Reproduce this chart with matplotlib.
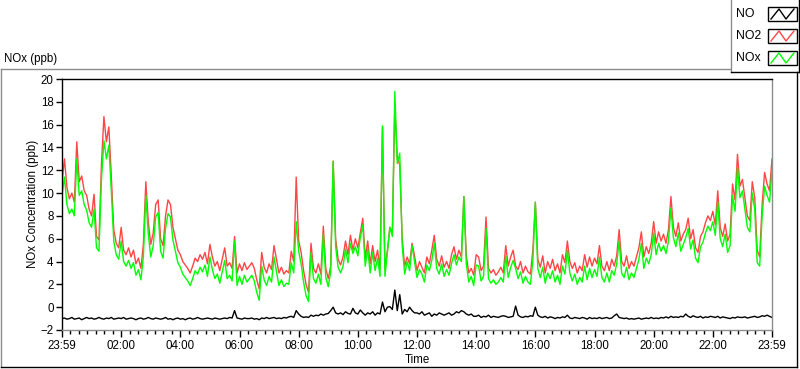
import numpy as np
import matplotlib.pyplot as plt
from matplotlib.ticker import FixedLocator, AutoMinorLocator
from matplotlib.lines import Line2D
from matplotlib.patches import Rectangle

plt.rcParams['font.family'] = ['Liberation Sans', 'DejaVu Sans']

# sample times, minutes after the 23:59 start (5 min steps)
minutes = np.arange(0, 1441, 5)

# NO2 (ppb), one row per hour
no2 = [11.0, 13.0, 10.5, 9.5, 10.0, 9.2, 14.5, 11.0, 11.5, 10.2, 9.8, 8.6,
       8.0, 9.9, 6.2, 5.9, 12.5, 16.7, 14.5, 15.8, 11.5, 6.8, 5.6, 5.2,
       7.0, 5.0, 4.6, 5.2, 4.4, 5.0, 3.8, 4.3, 3.4, 5.5, 11.0, 7.5,
       5.5, 6.5, 9.0, 9.4, 6.0, 5.4, 8.0, 9.4, 9.0, 7.0, 6.0, 5.0,
       4.6, 4.0, 3.7, 3.4, 3.0, 3.6, 4.3, 4.0, 4.6, 4.2, 4.8, 3.8,
       5.5, 4.4, 3.6, 4.0, 3.2, 4.2, 5.2, 3.6, 3.9, 3.4, 6.2, 3.0,
       3.8, 3.2, 3.9, 3.3, 3.6, 3.9, 3.4, 2.4, 1.6, 4.8, 3.5, 3.0,
       3.8, 3.3, 5.4, 4.2, 3.0, 3.5, 2.9, 3.2, 3.0, 4.9, 4.0, 11.4,
       5.8, 4.8, 3.2, 2.0, 1.3, 5.6, 3.4, 3.0, 3.8, 2.9, 7.1, 3.4,
       2.5, 3.6, 12.8, 6.0, 4.2, 3.7, 4.4, 5.8, 4.6, 6.3, 5.0, 6.0,
       5.2, 6.5, 7.8, 4.3, 5.8, 3.8, 5.4, 4.0, 5.0, 3.4, 15.8, 3.3,
       5.0, 7.0, 6.5, 17.6, 13.0, 12.5, 6.0, 3.6, 4.4, 3.8, 5.6, 4.5,
       3.2, 4.0, 3.5, 3.0, 4.4, 3.8, 5.0, 6.3, 4.2, 3.6, 4.5, 3.5,
       4.0, 3.4, 4.6, 5.3, 4.2, 5.0, 4.4, 9.7, 4.5, 3.0, 3.4, 2.8,
       4.6, 4.4, 3.2, 3.6, 7.9, 3.4, 3.0, 3.3, 2.8, 3.1, 3.5, 3.0,
       5.4, 3.6, 4.4, 5.0, 3.6, 3.3, 4.0, 3.0, 3.6, 3.1, 2.9, 5.0,
       9.2, 4.2, 3.5, 4.5, 3.0, 4.0, 3.4, 4.2, 3.2, 3.8, 3.0, 4.6,
       3.9, 5.8, 4.0, 3.4, 3.9, 3.0, 3.6, 3.2, 4.6, 3.5, 4.4, 3.6,
       4.3, 3.8, 5.4, 3.6, 3.2, 4.0, 3.2, 4.2, 3.6, 4.5, 6.8, 4.0,
       3.6, 4.5, 3.4, 4.0, 3.6, 4.4, 5.2, 6.6, 4.4, 5.3, 4.7, 5.6,
       7.5, 5.6, 6.6, 5.8, 6.4, 5.6, 6.8, 9.7, 7.0, 6.2, 7.4, 5.8,
       6.4, 6.8, 7.8, 6.0, 6.8, 5.2, 4.8, 6.2, 6.6, 7.4, 8.0, 7.6,
       8.4, 7.2, 10.2, 7.0, 6.2, 7.3, 5.8, 6.4, 10.8, 9.4, 13.4, 10.6,
       11.2, 9.6, 8.0, 7.6, 11.0, 9.6, 5.0, 4.4, 9.0, 11.8, 10.8, 10.2,
       13.0]

# NOx (ppb)
nox = [9.8, 11.4, 9.0, 8.2, 8.6, 8.0, 13.0, 9.8, 10.2, 9.0, 8.5, 7.4,
       7.0, 8.6, 5.2, 4.9, 11.2, 14.6, 13.0, 14.2, 10.2, 5.8, 4.6, 4.2,
       5.8, 4.0, 3.6, 4.1, 3.4, 3.9, 2.8, 3.3, 2.4, 4.4, 9.8, 6.4,
       4.4, 5.4, 7.9, 8.3, 4.9, 4.3, 6.9, 8.2, 7.9, 5.9, 4.9, 3.9,
       3.5, 2.9, 2.6, 2.3, 1.9, 2.5, 3.2, 2.9, 3.5, 3.1, 3.7, 2.7,
       4.4, 3.3, 2.5, 2.9, 2.1, 3.1, 4.1, 2.5, 2.8, 2.3, 5.8, 1.9,
       2.7, 2.0, 2.8, 2.2, 2.5, 2.8, 2.3, 1.3, 0.6, 3.6, 2.4, 1.9,
       2.7, 2.2, 4.4, 3.1, 1.9, 2.4, 1.8, 2.1, 2.0, 3.9, 3.0, 7.5,
       4.9, 3.8, 2.2, 1.0, 0.5, 4.8, 2.5, 2.1, 2.9, 2.0, 6.4, 2.6,
       1.8, 3.1, 12.8, 5.3, 3.5, 3.0, 3.6, 5.1, 3.9, 5.6, 4.7, 5.3,
       4.5, 6.1, 7.2, 3.6, 5.1, 3.0, 4.8, 3.2, 4.3, 2.7, 15.9, 2.7,
       4.8, 7.0, 6.2, 18.9, 12.6, 13.5, 5.4, 2.9, 4.0, 3.2, 5.4, 4.0,
       2.6, 3.3, 2.9, 2.2, 3.7, 3.2, 4.1, 5.6, 3.4, 2.9, 3.8, 2.7,
       3.3, 2.8, 3.8, 4.6, 3.7, 4.4, 4.0, 9.7, 3.8, 2.2, 2.7, 1.9,
       3.7, 3.6, 2.3, 2.7, 6.9, 2.5, 2.1, 2.4, 2.0, 2.2, 2.6, 2.2,
       4.5, 2.6, 3.5, 4.1, 3.4, 2.5, 3.1, 2.1, 2.7, 2.2, 2.0, 4.1,
       9.2, 3.4, 2.6, 3.5, 2.1, 3.0, 2.5, 3.2, 2.2, 2.8, 2.0, 3.6,
       2.9, 5.0, 3.0, 2.3, 2.9, 2.0, 2.6, 2.2, 3.6, 2.4, 3.4, 2.6,
       3.3, 2.7, 4.4, 2.6, 2.2, 3.0, 2.2, 3.2, 2.8, 3.8, 5.8, 3.0,
       2.6, 3.5, 2.4, 3.0, 2.6, 3.4, 4.2, 5.6, 3.4, 4.3, 3.8, 4.6,
       6.5, 4.6, 5.6, 4.9, 5.4, 4.7, 5.8, 8.7, 6.1, 5.3, 6.5, 4.9,
       5.5, 6.1, 6.9, 5.1, 5.9, 4.3, 3.9, 5.3, 5.7, 6.5, 7.1, 6.7,
       7.5, 6.3, 9.2, 6.0, 5.3, 6.4, 4.8, 5.4, 9.8, 8.4, 12.2, 9.6,
       10.2, 8.6, 7.0, 6.6, 10.0, 8.6, 3.9, 3.6, 8.0, 10.6, 9.8, 9.2,
       12.0]

# NO (ppb)
no = [-1.0, -0.95, -1.05, -1.0, -0.9, -1.05, -1.0, -0.95, -1.1, -1.0, -0.9, -1.0,
      -0.95, -1.05, -1.0, -0.9, -1.0, -1.05, -0.95, -1.0, -0.9, -1.05, -1.0, -0.95,
      -1.0, -0.9, -1.05, -1.0, -0.95, -1.0, -1.1, -1.0, -0.95, -1.05, -1.0, -0.9,
      -1.0, -1.05, -0.95, -1.0, -1.05, -1.0, -0.9, -1.05, -1.0, -1.1, -1.0, -0.95,
      -1.05, -1.0, -1.1, -1.0, -0.95, -1.05, -1.0, -0.9, -1.0, -1.05, -1.0, -0.95,
      -1.0, -1.05, -0.95, -1.0, -1.05, -1.0, -0.95, -1.0, -0.9, -0.95, -0.3, -0.95,
      -1.0, -1.05, -0.95, -1.0, -1.0, -0.95, -1.05, -1.0, -1.1, -0.95, -1.0, -0.9,
      -1.0, -0.95, -0.9, -1.0, -0.95, -1.0, -0.9, -0.95, -0.85, -0.8, -0.9, -0.3,
      -0.6, -0.8, -0.9, -0.85, -0.9, -0.7, -0.8, -0.7, -0.75, -0.6, -0.7, -0.6,
      -0.55, -0.3, 0.0, -0.5, -0.6, -0.5, -0.65, -0.4, -0.55, -0.6, -0.1, -0.5,
      -0.6, -0.25, -0.5, -0.7, -0.5, -0.6, -0.4, -0.7, -0.5, -0.6, 0.45, -0.4,
      0.0, 0.05, -0.2, 1.5, -0.3, 1.1, -0.6, -0.2, -0.4, 0.0, -0.3, -0.5,
      -0.5, -0.6, -0.4, -0.7, -0.6, -0.5, -0.8, -0.6, -0.7, -0.5, -0.6, -0.7,
      -0.6, -0.5, -0.7, -0.6, -0.4, -0.5, -0.3, -0.4, -0.6, -0.7, -0.6, -0.8,
      -0.8, -0.7, -0.9, -0.8, -0.85, -0.7, -0.9, -0.8, -0.85, -0.9, -0.8, -0.75,
      -0.8, -0.9, -0.85, -0.8, 0.1, -0.7, -0.85, -0.9, -0.8, -0.85, -0.75, -0.8,
      0.0, -0.7, -0.85, -0.9, -0.8, -0.95, -0.85, -0.9, -1.0, -0.9, -0.95, -0.85,
      -0.9, -0.7, -0.95, -1.0, -0.9, -0.95, -1.0, -0.9, -0.95, -1.05, -0.9, -1.0,
      -0.95, -1.0, -0.9, -1.0, -0.95, -0.9, -1.0, -0.95, -0.75, -0.6, -0.9, -0.95,
      -1.0, -0.95, -1.05, -1.0, -1.05, -1.0, -0.95, -1.05, -1.0, -0.95, -1.0, -0.9,
      -1.0, -0.95, -1.0, -0.9, -0.95, -0.85, -0.95, -0.8, -0.9, -0.85, -0.9, -0.8,
      -0.85, -0.6, -0.8, -0.9, -0.75, -0.85, -0.9, -0.8, -0.95, -0.85, -0.9, -0.8,
      -0.85, -0.9, -0.8, -0.95, -0.85, -0.9, -0.95, -1.0, -0.9, -0.95, -0.85, -0.9,
      -0.9, -0.85, -0.95, -0.9, -0.85, -0.8, -0.9, -0.85, -0.75, -0.8, -0.7, -0.8,
      -0.9]

tick_pos = [0, 120, 240, 360, 480, 600, 720, 840, 960, 1080, 1200, 1320, 1440]
tick_labels = ['23:59', '02:00', '04:00', '06:00', '08:00', '10:00', '12:00',
               '14:00', '16:00', '18:00', '20:00', '22:00', '23:59']
y_ticks = [-2, 0, 2, 4, 6, 8, 10, 12, 14, 16, 18, 20]

red = '#ff4545'
green = '#00ff00'
grey = '#8c8c8c'
fs = 8.3

W, H = 800, 369
fig = plt.figure(figsize=(W / 100, H / 100), dpi=100)


def fx(x):
    return x / W


def fy(y):
    return 1 - y / H


ax = fig.add_axes([fx(62), fy(330), (772 - 62) / W, (330 - 79) / H])
ax.plot(minutes, no, color='black', lw=1.0)
ax.plot(minutes, no2, color=red, lw=1.0)
ax.plot(minutes, nox, color=green, lw=1.0)

ax.set_xlim(0, 1440)
ax.set_ylim(-2, 20)
ax.xaxis.set_major_locator(FixedLocator(tick_pos))
ax.set_xticklabels(tick_labels)
ax.xaxis.set_minor_locator(AutoMinorLocator(7))
ax.set_yticks(y_ticks)
ax.tick_params(axis='both', which='major', direction='out', length=5, width=1,
               color='black', labelsize=fs, pad=2)
ax.tick_params(axis='x', which='minor', direction='out', length=3, width=1, color='black')
ax.tick_params(axis='y', which='major', length=4)

ax.spines['left'].set_color('black')
ax.spines['top'].set_color('black')
ax.spines['right'].set_color(grey)
ax.spines['bottom'].set_color(grey)
for s in ax.spines.values():
    s.set_linewidth(1)

fig.text(fx(33), fy(204), 'NOx Concentration (ppb)', rotation=90, ha='center',
         va='center', fontsize=fs)
fig.text(fx(417), fy(360), 'Time', ha='center', va='center', fontsize=fs)
fig.text(fx(4), fy(59), 'NOx (ppb)', ha='left', va='center', fontsize=fs)

# outer frame
fig.add_artist(Line2D([fx(1), fx(730)], [fy(69), fy(69)], color=grey, lw=1))
fig.add_artist(Line2D([fx(1), fx(1)], [fy(69), fy(367)], color=grey, lw=1))
fig.add_artist(Line2D([fx(1), fx(797)], [fy(367), fy(367)], color='black', lw=1))
fig.add_artist(Line2D([fx(797), fx(797)], [fy(72), fy(367)], color='black', lw=1))

# legend box
fig.add_artist(Line2D([fx(730.5), fx(730.5)], [fy(0), fy(72)], color=grey, lw=1))
fig.add_artist(Line2D([fx(730.5), fx(799)], [fy(72), fy(72)], color='black', lw=1))
fig.add_artist(Line2D([fx(799), fx(799)], [fy(0), fy(72)], color='black', lw=1))

leg_names = ['NO', 'NO2', 'NOx']
leg_colors = ['black', red, green]
for i, (name, col) in enumerate(zip(leg_names, leg_colors)):
    yc = 14 + i * 22
    fig.text(fx(736), fy(yc), name, ha='left', va='center', fontsize=fs + 0.5)
    fig.add_artist(Rectangle((fx(768), fy(yc + 7)), 29 / W, 14 / H,
                             transform=fig.transFigure, facecolor='white',
                             edgecolor='black', lw=1))
    zx = [771, 779, 786, 794]
    zy = [yc + 5, yc - 5, yc + 5, yc - 5]
    fig.add_artist(Line2D([fx(v) for v in zx], [fy(v) for v in zy], color=col, lw=1))

fig.savefig('out.png', dpi=100)
